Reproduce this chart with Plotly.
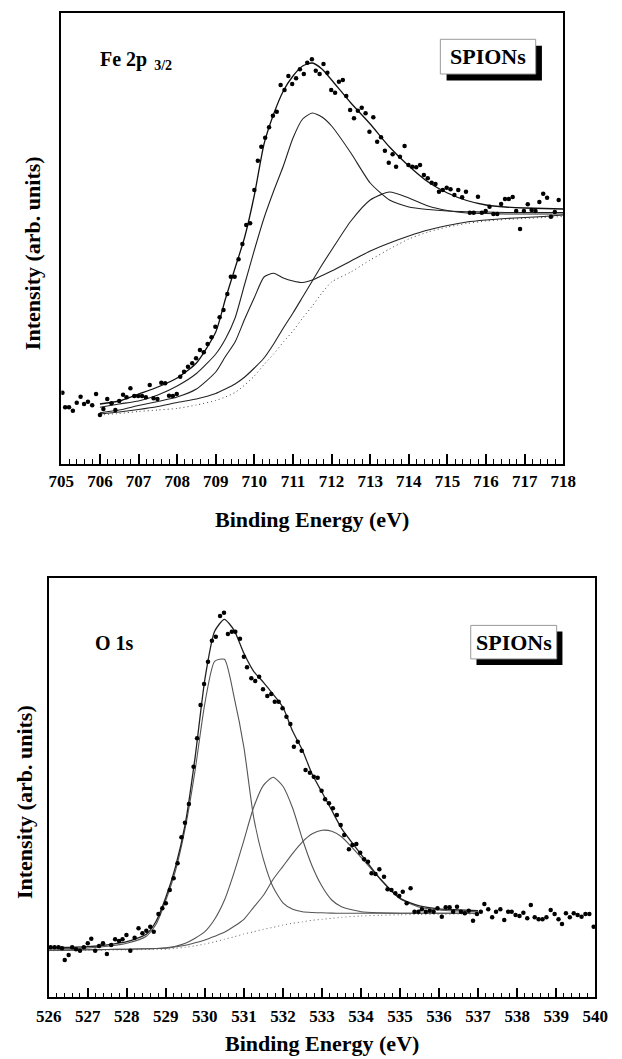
import plotly.graph_objects as go

# ---------------- Fe 2p3/2 panel (top) ----------------
FE_X = [705.03, 705.10, 705.20, 705.30, 705.40, 705.50, 705.59, 705.69, 705.80, 705.90,
        706.00, 706.09, 706.19, 706.30, 706.40, 706.50, 706.60, 706.69, 706.79, 706.89,
        706.99, 707.09, 707.19, 707.29, 707.39, 707.49, 707.59, 707.69, 707.79, 707.89,
        707.99, 708.08, 708.18, 708.28, 708.39, 708.49, 708.59, 708.69, 708.79, 708.89,
        708.99, 709.10, 709.20, 709.30, 709.39, 709.49, 709.59, 709.69, 709.79, 709.89,
        710.00, 710.09, 710.18, 710.28, 710.38, 710.48, 710.58, 710.68, 710.78, 710.88,
        710.98, 711.08, 711.18, 711.28, 711.37, 711.49, 711.59, 711.69, 711.79, 711.89,
        711.99, 712.09, 712.19, 712.29, 712.38, 712.48, 712.58, 712.68, 712.78, 712.88,
        712.98, 713.08, 713.18, 713.28, 713.38, 713.48, 713.58, 713.67, 713.77, 713.89,
        713.99, 714.09, 714.19, 714.29, 714.39, 714.49, 714.59, 714.69, 714.78, 714.88,
        714.98, 715.08, 715.18, 715.28, 715.38, 715.48, 715.58, 715.68, 715.79, 715.89,
        715.99, 716.09, 716.19, 716.29, 716.39, 716.49, 716.59, 716.69, 716.78, 716.88,
        716.98, 717.08, 717.18, 717.28, 717.38, 717.48, 717.58, 717.68, 717.78, 717.88]
FE_Y = [71.3, 56.7, 56.7, 53.3, 61.3, 67.3, 60.0, 62.3, 58.7, 70.0,
        49.0, 55.0, 65.0, 60.7, 54.0, 63.0, 69.3, 66.7, 75.7, 68.0,
        68.0, 68.0, 66.7, 79.0, 65.7, 65.0, 81.3, 80.7, 68.3, 68.0,
        70.0, 87.3, 92.3, 97.3, 100.7, 105.7, 114.0, 111.7, 120.0, 126.7,
        137.3, 146.7, 154.0, 170.0, 187.3, 187.3, 204.7, 220.0, 239.0, 240.7,
        274.0, 303.3, 317.3, 326.3, 336.7, 348.3, 352.3, 379.0, 374.0, 388.0,
        380.0, 385.7, 394.7, 390.0, 401.3, 404.7, 393.3, 390.0, 400.0, 391.3,
        374.0, 371.3, 382.3, 384.0, 368.0, 354.0, 345.7, 353.3, 356.3, 350.7,
        332.3, 346.7, 322.3, 326.7, 313.3, 301.3, 309.7, 297.3, 307.3, 318.0,
        299.0, 297.3, 296.7, 299.0, 289.0, 285.7, 281.3, 280.0, 272.3, 274.0,
        276.3, 274.7, 269.0, 274.0, 266.7, 272.3, 251.3, 251.3, 267.3, 251.3,
        253.0, 257.3, 250.0, 250.0, 260.0, 265.0, 265.0, 267.0, 253.0, 235.0,
        253.0, 259.7, 254.0, 253.0, 262.0, 270.3, 266.3, 247.3, 252.0, 264.0]

FE_FIT_X = [706, 706.5, 707, 707.5, 708, 708.5, 709, 709.25, 709.5, 709.75,
            710, 710.25, 710.5, 710.75, 711, 711.25, 711.5, 711.75, 712, 712.5,
            713, 713.5, 714, 714.5, 715, 715.5, 716, 716.5, 717, 717.5, 718]
FE_ENV = [60, 63, 70, 77, 86, 101, 132, 165, 196, 227,
          269, 320, 350, 373, 388, 398, 401, 395, 384, 361,
          340, 317, 298, 282, 271, 263.5, 259, 257, 256, 255.5, 255]
FE_C1 = [56.7, 60, 63, 69, 78, 90.5, 110, 125, 146, 180,
         214, 246, 273, 298, 326, 345, 351, 347, 338, 311,
         281, 264, 257, 254.5, 253, 252.3, 252, 251.5, 251.5, 251.5, 251.5]
FE_C2 = [51.3, 54, 58.5, 62.5, 67, 75, 92, 107.5, 122, 145,
         166.5, 187, 190.7, 186, 183, 181.5, 184, 188.5, 193, 203,
         213, 221, 228, 234, 238.5, 242, 244, 245.5, 246.5, 247.5, 249]
FE_C3 = [50, 52, 54.5, 57.5, 61.5, 65, 70.5, 75, 80, 87,
         96, 106, 120, 136, 151, 167, 183, 199, 214, 243,
         264, 272, 266, 258, 253.5, 251, 250.5, 250, 250, 250, 250]
FE_BG = [49, 50.5, 52.5, 54, 55.6, 59, 63.5, 67, 71.5, 79,
         88, 99.5, 110, 122, 133, 146, 158, 171, 182, 192,
         204, 215, 225, 232, 237, 240.5, 243, 244.5, 245.5, 246.5, 247.5]

# ---------------- O 1s panel (bottom) ----------------
O_X = [526.05, 526.15, 526.25, 526.34, 526.41, 526.51, 526.60, 526.70, 526.80, 526.90,
       527.00, 527.09, 527.19, 527.29, 527.39, 527.49, 527.60, 527.70, 527.80, 527.89,
       527.99, 528.09, 528.20, 528.30, 528.40, 528.50, 528.60, 528.69, 528.81, 528.91,
       529.00, 529.10, 529.20, 529.30, 529.40, 529.49, 529.59, 529.71,
       529.80, 529.89, 529.98, 530.08, 530.18, 530.28, 530.39, 530.49, 530.59, 530.69,
       530.78, 530.90, 531.00, 531.08, 531.19, 531.29, 531.39, 531.49, 531.60, 531.70,
       531.79, 531.89, 531.99, 532.09, 532.19, 532.28, 532.38, 532.48, 532.58, 532.69,
       532.79, 532.89, 532.99, 533.08,
       533.18, 533.28, 533.38, 533.48, 533.57, 533.69, 533.78, 533.88, 533.98, 534.08,
       534.18, 534.27, 534.37, 534.47, 534.59, 534.68, 534.78, 534.88, 534.98, 535.07,
       535.17, 535.27, 535.37, 535.47, 535.56, 535.66, 535.76, 535.86, 535.96, 536.07,
       536.17, 536.27, 536.36, 536.46, 536.56, 536.66, 536.76, 536.87, 536.97, 537.07,
       537.16, 537.26, 537.36, 537.46, 537.57, 537.67, 537.77, 537.86, 537.96, 538.06,
       538.16, 538.26, 538.35, 538.45, 538.55, 538.65, 538.75, 538.86, 538.96, 539.06,
       539.15, 539.25, 539.35, 539.45, 539.55, 539.65, 539.75, 539.85, 539.96]
O_Y = [50.0, 50.0, 50.0, 49.0, 37.3, 42.3, 50.0, 48.0, 46.6, 50.0,
       54.0, 58.6, 46.6, 51.3, 54.0, 43.3, 52.3, 58.0, 56.3, 58.0,
       62.3, 46.6, 59.6, 69.0, 64.0, 66.6, 70.6, 65.6, 83.3, 89.0,
       94.0, 107.3, 119.0, 134.0, 160.0, 174.6, 193.3, 230.6,
       259.0, 292.3, 313.3, 335.6, 356.6, 360.6, 381.3, 384.6, 363.3, 365.6,
       365.6, 358.6, 340.6, 330.0, 319.0, 316.3, 320.6, 308.0, 301.3, 303.3,
       295.6, 295.6, 289.0, 280.6, 273.3, 250.6, 255.6, 246.6, 227.3, 224.6,
       220.6, 219.6, 206.6, 198.0,
       194.0, 189.0, 182.3, 172.3, 162.3, 148.0, 152.3, 153.3, 144.6, 138.0,
       135.6, 124.0, 123.3, 128.0, 120.6, 108.0, 107.3, 104.0, 101.3, 105.6,
       94.0, 109.0, 85.6, 85.6, 88.0, 85.6, 86.6, 85.6, 89.0, 80.6,
       90.0, 90.0, 85.6, 90.6, 85.6, 84.0, 86.6, 76.6, 83.3, 85.6,
       93.3, 88.0, 80.0, 85.6, 88.0, 77.3, 85.6, 85.6, 82.3, 81.3,
       84.6, 79.0, 92.3, 80.0, 78.0, 78.0, 80.0, 87.3, 83.3, 78.0,
       73.3, 84.0, 80.0, 84.0, 82.3, 80.6, 83.3, 83.3, 70.6]

O_FIT_X = [526, 526.5, 527, 527.5, 528, 528.5, 528.75, 529, 529.25, 529.5,
           529.75, 530, 530.25, 530.5, 530.75, 531, 531.25, 531.5, 531.75, 532,
           532.25, 532.5, 532.75, 533, 533.25, 533.5, 534, 534.5, 535, 535.5,
           536, 536.5, 537]
O_ENV = [50, 50, 50.6, 52.5, 55.6, 63, 76, 100, 131, 174,
         240, 318, 366, 378, 367, 344, 326, 315, 303, 290,
         266, 247, 223, 205, 187, 169, 143, 118, 99, 91.5,
         88.5, 87.5, 86.6]
O_C1 = [48.5, 48.7, 49.3, 51, 54, 61, 73, 97, 127, 170,
        227, 294, 336, 338, 300, 250, 180, 138, 110, 94.5,
        88, 85.5, 84.8, 84.5, 84.2, 84, 84, 84, 84, 84,
        84, 84, 84]
O_C2 = [47, 47.2, 47.5, 47.8, 48, 48.5, 48.8, 49.5, 51, 54,
        59, 65.6, 78, 97, 125, 157, 190, 212, 220, 211,
        189, 158, 131, 111, 97.3, 90.5, 85.6, 84.5, 84, 84,
        84, 84, 84]
O_C3 = [47, 47.2, 47.5, 47.8, 48, 48.5, 48.8, 49, 50.5, 52,
        54.5, 57.3, 61, 65, 71, 78, 90, 102, 118, 131,
        144, 155.5, 163.5, 167, 166, 160.5, 140, 118, 98.5, 90,
        87.3, 86.3, 85.6]
O_BG = [46.6, 46.8, 47, 47.2, 47.5, 47.8, 48, 48, 49, 50,
        51.5, 53.3, 55.5, 58, 60.5, 63.3, 65.5, 68, 70, 72.3,
        74, 75.5, 77, 78, 79, 80, 81.3, 82, 82.5, 82.8,
        83, 83.2, 83.4]

FE_TICKS = list(range(705, 719))
O_TICKS = list(range(526, 541))

SERIF = "Liberation Serif, Times New Roman, serif"
W, H = 622, 1059

fig = go.Figure()


def add_curves(xs, curves, xa, ya, main_color, comp_color, bg_color):
    env, c1, c2, c3, bg = curves
    fig.add_trace(go.Scatter(x=xs, y=bg, mode="lines", xaxis=xa, yaxis=ya,
                             line=dict(color=bg_color, width=1, dash="1px,3px", shape="spline", smoothing=0.6)))
    for c in (c1, c2, c3):
        fig.add_trace(go.Scatter(x=xs, y=c, mode="lines", xaxis=xa, yaxis=ya,
                                 line=dict(color=comp_color, width=1.1, shape="spline", smoothing=0.6)))
    fig.add_trace(go.Scatter(x=xs, y=env, mode="lines", xaxis=xa, yaxis=ya,
                             line=dict(color=main_color, width=1.3, shape="spline", smoothing=0.6)))


add_curves(FE_FIT_X, (FE_ENV, FE_C1, FE_C2, FE_C3, FE_BG), "x", "y", "#111111", "#222222", "#444444")
fig.add_trace(go.Scatter(x=FE_X, y=FE_Y, mode="markers", xaxis="x", yaxis="y",
                         marker=dict(color="#000000", size=4.5)))
add_curves(O_FIT_X, (O_ENV, O_C1, O_C2, O_C3, O_BG), "x2", "y2", "#222222", "#555555", "#666666")
fig.add_trace(go.Scatter(x=O_X, y=O_Y, mode="markers", xaxis="x2", yaxis="y2",
                         marker=dict(color="#000000", size=4.5)))


def xaxis_cfg(domain, rng, ticks, anchor, standoff):
    return dict(domain=domain, range=rng, anchor=anchor, tickmode="array", tickvals=ticks,
                ticktext=["<b>%d</b>" % t for t in ticks],
                ticks="inside", ticklen=10, tickwidth=1.5, tickcolor="#000000",
                minor=dict(ticks="inside", ticklen=5, tickwidth=1.2, dtick=0.2, tick0=rng[0],
                           tickcolor="#000000", showgrid=False),
                showline=True, linecolor="#000000", linewidth=1.6, mirror=True,
                showgrid=False, zeroline=False, ticklabelstandoff=standoff,
                tickfont=dict(family=SERIF, size=17, color="#000000"))


def yaxis_cfg(domain, rng, anchor):
    return dict(domain=domain, range=rng, anchor=anchor, showticklabels=False, ticks="",
                showline=True, linecolor="#000000", linewidth=1.6, mirror=True,
                showgrid=False, zeroline=False)


def px_x(p):
    return p / W


def px_y(p):
    return 1 - p / H


fe_dom_x = [px_x(50.4), px_x(574.3)]
fe_dom_y = [px_y(464.0), px_y(12.7)]
o_dom_x = [px_x(37.3), px_x(607.6)]
o_dom_y = [px_y(997.3), px_y(578.3)]

shapes = []
annotations = []


def spion_box(x0, x1, y0, y1, off):
    shapes.append(dict(type="rect", xref="paper", yref="paper",
                       x0=px_x(x0 + off), x1=px_x(x1 + off), y0=px_y(y1 + off), y1=px_y(y0 + off),
                       fillcolor="#000000", line=dict(width=0)))
    shapes.append(dict(type="rect", xref="paper", yref="paper",
                       x0=px_x(x0), x1=px_x(x1), y0=px_y(y1), y1=px_y(y0),
                       fillcolor="#ffffff", line=dict(color="#9a9a9a", width=1)))
    annotations.append(dict(text="<b>SPIONs</b>", xref="paper", yref="paper",
                            x=px_x((x0 + x1) / 2), y=px_y((y0 + y1) / 2), showarrow=False,
                            xanchor="center", yanchor="middle",
                            font=dict(family=SERIF, size=22, color="#000000")))


spion_box(446.0, 545.5, 39.3, 74.0, 6.5)
spion_box(477.7, 567.4, 625.4, 658.9, 6.0)

annotations.append(dict(text="<b>Fe 2p<sub>&nbsp; 3/2</sub></b>", xref="paper", yref="paper",
                        x=px_x(89), y=px_y(61), showarrow=False, xanchor="left", yanchor="middle",
                        font=dict(family=SERIF, size=20, color="#000000")))
annotations.append(dict(text="<b>O 1s</b>", xref="paper", yref="paper",
                        x=px_x(84), y=px_y(642.7), showarrow=False, xanchor="left", yanchor="middle",
                        font=dict(family=SERIF, size=20, color="#000000")))
annotations.append(dict(text="<b>Binding Energy (eV)</b>", xref="paper", yref="paper",
                        x=px_x(312), y=px_y(519), showarrow=False, xanchor="center", yanchor="middle",
                        font=dict(family=SERIF, size=22, color="#000000")))
annotations.append(dict(text="<b>Binding Energy (eV)</b>", xref="paper", yref="paper",
                        x=px_x(323), y=px_y(1043), showarrow=False, xanchor="center", yanchor="middle",
                        borderpad=0, font=dict(family=SERIF, size=22, color="#000000")))
annotations.append(dict(text="<b>Intensity (arb. units)</b>", xref="paper", yref="paper",
                        x=px_x(20.5), y=px_y(253.5), showarrow=False, xanchor="center", yanchor="middle",
                        textangle=-90, font=dict(family=SERIF, size=22, color="#000000")))
annotations.append(dict(text="<b>Intensity (arb. units)</b>", xref="paper", yref="paper",
                        x=px_x(11.5), y=px_y(802), showarrow=False, xanchor="center", yanchor="middle",
                        textangle=-90, borderpad=0, font=dict(family=SERIF, size=22, color="#000000")))

fig.update_layout(
    width=W, height=H, margin=dict(l=0, r=0, t=0, b=0),
    paper_bgcolor="#ffffff", plot_bgcolor="#ffffff", showlegend=False,
    xaxis=xaxis_cfg(fe_dom_x, [705, 718], FE_TICKS, "y", 1),
    yaxis=yaxis_cfg(fe_dom_y, [0, 451.3], "x"),
    xaxis2=xaxis_cfg(o_dom_x, [526, 540], O_TICKS, "y2", 2),
    yaxis2=yaxis_cfg(o_dom_y, [0, 419.0], "x2"),
    shapes=shapes, annotations=annotations,
)

fig.write_html("out.html")
